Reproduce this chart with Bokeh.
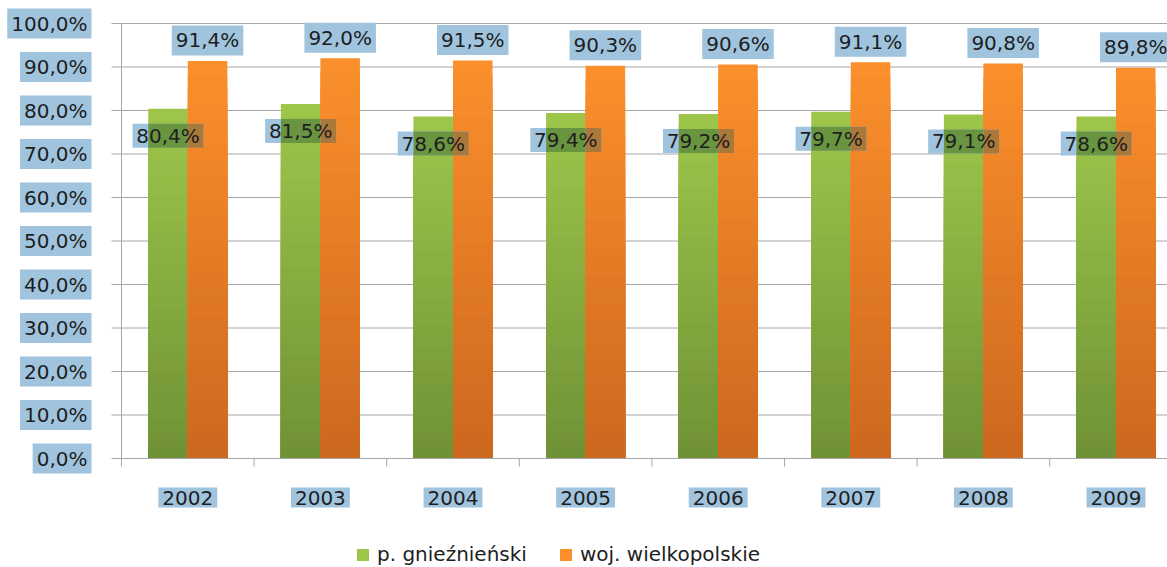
import numpy as np
from bokeh.plotting import figure
from bokeh.models import Range1d, Label, Legend, LegendItem
from bokeh.embed import file_html
from bokeh.resources import INLINE

# ---------------- data ----------------
years = ["2002", "2003", "2004", "2005", "2006", "2007", "2008", "2009"]
gniezno = [80.4, 81.5, 78.6, 79.4, 79.2, 79.7, 79.1, 78.6]
wielkopolska = [91.4, 92.0, 91.5, 90.3, 90.6, 91.1, 90.8, 89.8]
series_names = ["p. gnieźnieński", "woj. wielkopolskie"]
y_ticks = [0, 10, 20, 30, 40, 50, 60, 70, 80, 90, 100]
y_tick_labels = ["0,0%", "10,0%", "20,0%", "30,0%", "40,0%", "50,0%",
                 "60,0%", "70,0%", "80,0%", "90,0%", "100,0%"]

# ---------------- style / layout ----------------
FONT = "DejaVu Sans"
FS = "20px"
TXT = "#1e1e1e"
BLUE = "#A0C4DE"
OVER_GREEN = "#6A9540"
OVER_ORANGE = "#A9783A"
GREEN_TOP, GREEN_BOT = (157, 197, 74), (112, 146, 54)
ORANGE_TOP, ORANGE_BOT = (250, 143, 43), (205, 104, 31)
GRID = "#A6A6A6"

W, H = 1167, 567
AXIS_X_PX = 121      # pixel column of the value axis
ZERO_Y_PX = 458      # pixel row of 0 %
TOP_Y_PX = 23        # pixel row of 100 %
CAT_PX = 132.6       # pixels per category
PXY = (ZERO_Y_PX - TOP_Y_PX) / 100.0
n = len(years)
BW = 0.298

XS = -0.5 - AXIS_X_PX / CAT_PX
XE = XS + W / CAT_PX
YS = -(H - ZERO_Y_PX) / PXY
YE = 100 + TOP_Y_PX / PXY

p = figure(width=W, height=H, output_backend="svg", toolbar_location=None,
           x_range=Range1d(XS, XE), y_range=Range1d(YS, YE),
           x_axis_type=None, y_axis_type=None)
p.min_border = 0
p.min_border_left = p.min_border_right = p.min_border_top = p.min_border_bottom = 0
p.outline_line_color = None
p.background_fill_color = "white"
p.border_fill_color = "white"
p.xgrid.visible = False
p.ygrid.visible = False

# value gridlines, axis lines, ticks
tick_y = 10 / CAT_PX
p.segment(x0=[-0.5 - tick_y] * len(y_ticks), x1=[XE] * len(y_ticks),
          y0=y_ticks, y1=y_ticks, line_color=GRID, line_width=1)
p.segment(x0=[-0.5], x1=[-0.5], y0=[0], y1=[max(y_ticks)], line_color=GRID, line_width=1)
bounds = [i - 0.5 for i in range(n + 1)]
p.segment(x0=bounds, x1=bounds, y0=[0] * len(bounds), y1=[-8 / PXY] * len(bounds),
          line_color=GRID, line_width=1)


def lerp(c1, c2, f):
    return "#%02x%02x%02x" % tuple(int(round(a + (b - a) * f)) for a, b in zip(c1, c2))


x_idx = np.arange(n)
g_centers = x_idx - BW / 2
o_centers = x_idx + BW / 2

STEPS = 28
renderers = []
for centers, vals, ctop, cbot in [(g_centers, gniezno, GREEN_TOP, GREEN_BOT),
                                  (o_centers, wielkopolska, ORANGE_TOP, ORANGE_BOT)]:
    vals = np.array(vals)
    main = p.vbar(x=centers, top=vals, width=BW, fill_color=lerp(ctop, cbot, 0),
                  line_color=None)
    renderers.append(main)
    xs, tops, cols = [], [], []
    for k in range(1, STEPS):
        f = k / (STEPS - 1)
        for c, v in zip(centers, vals):
            xs.append(c)
            tops.append(v * (1 - k / STEPS))
            cols.append(lerp(ctop, cbot, f))
    p.vbar(x=xs, top=tops, width=BW, fill_color=cols, line_color=None)

# category axis line (drawn over bar bottoms)
p.segment(x0=[-0.5], x1=[XE], y0=[0], y1=[0], line_color=GRID, line_width=1)

# green value label backgrounds (blend over white / green / orange)
gv = np.array(gniezno)
hw = 35.5 / CAT_PX
hh = 12.0 / PXY
cy = gv - 27.0 / PXY
p.quad(left=g_centers - hw, right=g_centers + hw, bottom=cy - hh, top=cy + hh,
       fill_color=BLUE, line_color=None)
p.quad(left=g_centers - BW / 2, right=g_centers + BW / 2, bottom=cy - hh, top=cy + hh,
       fill_color=OVER_GREEN, line_color=None)
p.quad(left=g_centers + BW / 2, right=g_centers + hw, bottom=cy - hh, top=cy + hh,
       fill_color=OVER_ORANGE, line_color=None)


def fmt(v):
    return f"{v:.1f}%".replace(".", ",")


pad = dict(left=4, right=4, top=3, bottom=3)

for c, v in zip(g_centers, gniezno):
    p.add_layout(Label(x=c, y=v, y_offset=-27, text=fmt(v), text_align="center",
                       text_baseline="middle", text_font=FONT, text_font_size=FS,
                       text_color=TXT))

for c, v in zip(o_centers, wielkopolska):
    p.add_layout(Label(x=c, y=v, y_offset=20.5, text=fmt(v), text_align="center",
                       text_baseline="middle", text_font=FONT, text_font_size=FS,
                       text_color=TXT, background_fill_color=BLUE, padding=pad))

for t, lab in zip(y_ticks, y_tick_labels):
    p.add_layout(Label(x=-0.5, y=t, x_offset=-30, text=lab, text_align="right",
                       text_baseline="middle", text_font=FONT, text_font_size=FS,
                       text_color=TXT, background_fill_color=BLUE, padding=pad))

for i, yr in enumerate(years):
    p.add_layout(Label(x=i, y=0, y_offset=-39, text=yr, text_align="center",
                       text_baseline="middle", text_font=FONT, text_font_size=FS,
                       text_color=TXT, background_fill_color=BLUE, padding=pad))

legend = Legend(items=[LegendItem(label=series_names[0], renderers=[renderers[0]]),
                       LegendItem(label=series_names[1], renderers=[renderers[1]])],
                orientation="horizontal", location=(355, 1),
                padding=0, margin=0, spacing=31, label_standoff=7,
                glyph_width=15, glyph_height=15,
                border_line_color=None, background_fill_alpha=0,
                label_text_font=FONT, label_text_font_size=FS, label_text_color=TXT)
p.add_layout(legend)

open("out.html", "w").write(file_html(p, INLINE))
